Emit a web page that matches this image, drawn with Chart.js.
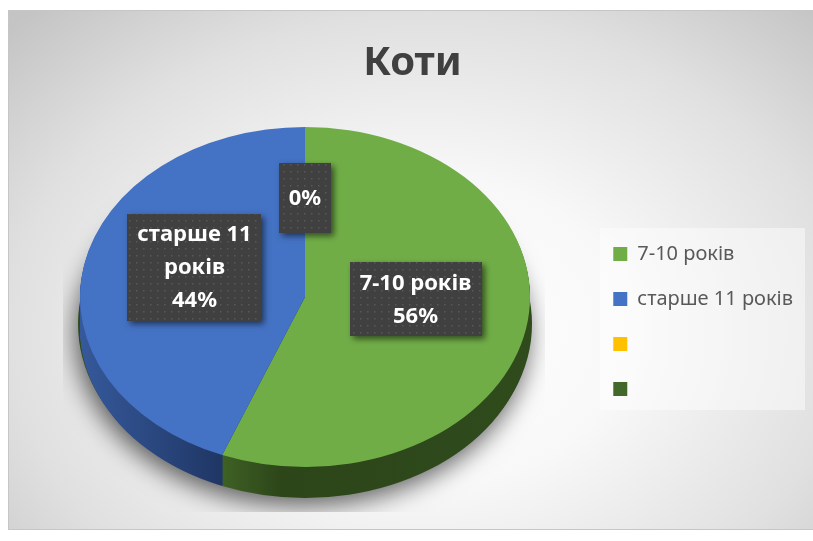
<!DOCTYPE html>
<html lang="uk">
<head>
  <meta charset="UTF-8">
  <title>Коти</title>
  <script src="https://cdn.jsdelivr.net/npm/chart.js"></script>
  <style>
    html, body { margin: 0; padding: 0; background: #fff; }
    body { width: 813px; height: 541px; position: relative; overflow: hidden; }
    .frame {
      position: absolute; left: 8px; top: 10px; width: 805px; height: 520px;
      box-sizing: border-box; border: 1px solid #c6c6c6; border-right: none;
      background: radial-gradient(ellipse 72% 85% at 52% 62%, #ffffff 0%, #f8f8f8 35%, #e0e0e0 72%, #c4c4c4 100%);
    }
    #grafico { position: absolute; left: 0; top: 0; }
  </style>
</head>
<body>
  <div class="frame"></div>
  <canvas id="grafico" width="813" height="541"></canvas>

  <script>
    // дані
    const categories = ['7-10 років', 'старше 11 років', '', ''];
    const shares = [56, 44, 0, 0];
    const sliceColors = ['#70ad47', '#4472c4', '#ffc000', '#43682b'];
    // бокова стінка 3D (градієнт зліва направо)
    const sideStops = [
      [[0, '#3e6024'], [0.32, '#3e6024'], [0.45, '#2c4519'], [1, '#2f4b1c']],
      [[0, '#36599b'], [0.32, '#1f3664'], [1, '#1f3664']],
      [[0, '#b38600'], [1, '#8a6700']],
      [[0, '#2e481d'], [1, '#243a17']]
    ];

    // нахил пирога: центр верхньої грані, півосі та товщина
    const TILT = { cx: 305, cy: 297, rx: 225, ry: 170, depth: 31 };
    const PLOT_BOX = { x: 63, y: 110, w: 482, h: 402 };
    const FONT = '"Noto Sans", "DejaVu Sans", sans-serif';

    function getGeom(chart) {
      const arcs = chart.getDatasetMeta(0).data;
      const a = arcs[0];
      return { arcs, ox: a.x, oy: a.y, r: a.outerRadius, sx: TILT.rx / a.outerRadius, sy: TILT.ry / a.outerRadius };
    }

    function applyTilt(ctx, g, dy) {
      ctx.translate(TILT.cx, TILT.cy + dy);
      ctx.scale(g.sx, g.sy);
      ctx.translate(-g.ox, -g.oy);
    }

    const legendPanel = {
      id: 'legendPanel',
      beforeDraw(chart) {
        const ctx = chart.ctx;
        ctx.save();
        ctx.fillStyle = 'rgba(255,255,255,0.45)';
        ctx.fillRect(600, 228, 205, 182);
        ctx.restore();
      }
    };

    const pie3d = {
      id: 'pie3d',
      beforeDatasetsDraw(chart) {
        const ctx = chart.ctx;
        const g = getGeom(chart);

        // тінь під пирогом (обрізана областю побудови)
        ctx.save();
        ctx.beginPath();
        ctx.rect(PLOT_BOX.x, PLOT_BOX.y, PLOT_BOX.w, PLOT_BOX.h);
        ctx.clip();
        ctx.shadowColor = 'rgba(0,0,0,0.6)';
        ctx.shadowBlur = 24;
        ctx.shadowOffsetX = -3;
        ctx.shadowOffsetY = 10;
        ctx.fillStyle = '#2f4b1c';
        ctx.beginPath();
        ctx.ellipse(TILT.cx, TILT.cy + TILT.depth - 4, TILT.rx + 2, TILT.ry + 2, 0, 0, Math.PI * 2);
        ctx.fill();
        ctx.restore();

        // бокова стінка
        for (let d = TILT.depth; d >= 1; d--) {
          ctx.save();
          applyTilt(ctx, g, d);
          g.arcs.forEach((arc, i) => {
            if (arc.endAngle - arc.startAngle <= 0) return;
            const grad = ctx.createLinearGradient(g.ox - g.r, 0, g.ox + g.r, 0);
            sideStops[i].forEach(s => grad.addColorStop(s[0], s[1]));
            ctx.fillStyle = grad;
            ctx.beginPath();
            ctx.moveTo(g.ox, g.oy);
            ctx.arc(g.ox, g.oy, g.r, arc.startAngle, arc.endAngle);
            ctx.closePath();
            ctx.fill();
          });
          ctx.restore();
        }

        // верхня грань
        ctx.save();
        applyTilt(ctx, g, 0);
      },
      afterDatasetsDraw(chart) {
        chart.ctx.restore();
      }
    };

    function makeDots() {
      const c = document.createElement('canvas');
      c.width = 7; c.height = 7;
      const p = c.getContext('2d');
      p.fillStyle = '#404040';
      p.fillRect(0, 0, 7, 7);
      p.fillStyle = '#585858';
      p.fillRect(3, 3, 1.5, 1.5);
      return c;
    }

    function wrapText(ctx, text, maxW) {
      if (!text) return [];
      const words = text.split(' ');
      const lines = [];
      let cur = '';
      words.forEach(w => {
        const test = cur ? cur + ' ' + w : w;
        if (cur && ctx.measureText(test).width > maxW) {
          lines.push(cur);
          cur = w;
        } else {
          cur = test;
        }
      });
      if (cur) lines.push(cur);
      return lines;
    }

    const sliceLabels = {
      id: 'sliceLabels',
      afterDatasetsDraw(chart) {
        const ctx = chart.ctx;
        const g = getGeom(chart);
        const total = shares.reduce((a, b) => a + b, 0);
        const pattern = ctx.createPattern(makeDots(), 'repeat');
        const lineH = 33, padX = 10, padY = 4, minH = 70;
        const lift = 14;
        const done = [];

        ctx.save();
        ctx.font = 'bold 22px ' + FONT;
        g.arcs.forEach((arc, i) => {
          const mid = (arc.startAngle + arc.endAngle) / 2;
          const px = g.ox + 0.5 * g.r * Math.cos(mid);
          const py = g.oy + 0.5 * g.r * Math.sin(mid);
          const X = TILT.cx + (px - g.ox) * g.sx;
          const Y = TILT.cy + (py - g.oy) * g.sy - lift;
          const key = Math.round(X) + ',' + Math.round(Y);
          if (done.includes(key)) return;
          done.push(key);

          const lines = wrapText(ctx, categories[i], 125);
          lines.push(Math.round(shares[i] / total * 100) + '%');
          const w = Math.max(...lines.map(l => ctx.measureText(l).width)) + padX * 2;
          const h = Math.max(lines.length * lineH + padY * 2, shares[i] === 0 ? minH : 0);

          ctx.save();
          ctx.shadowColor = 'rgba(0,0,0,0.55)';
          ctx.shadowBlur = 6;
          ctx.shadowOffsetX = 3;
          ctx.shadowOffsetY = 3;
          ctx.fillStyle = pattern;
          ctx.fillRect(Math.round(X - w / 2), Math.round(Y - h / 2), Math.round(w), Math.round(h));
          ctx.restore();

          ctx.fillStyle = '#ffffff';
          ctx.textAlign = 'center';
          ctx.textBaseline = 'middle';
          const top = Y - (lines.length * lineH) / 2;
          lines.forEach((l, k) => ctx.fillText(l, X, top + lineH * (k + 0.5) + 1));
        });
        ctx.restore();
      }
    };

    new Chart(document.getElementById('grafico'), {
      type: 'pie',
      data: {
        labels: categories,
        datasets: [{
          data: shares,
          backgroundColor: sliceColors,
          borderColor: sliceColors,
          borderWidth: 0
        }]
      },
      options: {
        responsive: false,
        animation: false,
        events: [],
        layout: { padding: { left: 22, right: 10, top: 0, bottom: 0 } },
        plugins: {
          title: {
            display: true,
            text: 'Коти',
            color: '#404040',
            font: { family: FONT, size: 40, weight: 'bold' },
            padding: { top: 40, bottom: 14 }
          },
          legend: {
            position: 'right',
            fullSize: false,
            labels: {
              color: '#595959',
              font: { family: FONT, size: 20 },
              boxWidth: 14,
              boxHeight: 14,
              padding: 25
            }
          },
          tooltip: { enabled: false }
        }
      },
      plugins: [legendPanel, pie3d, sliceLabels]
    });
  </script>
</body>
</html>
